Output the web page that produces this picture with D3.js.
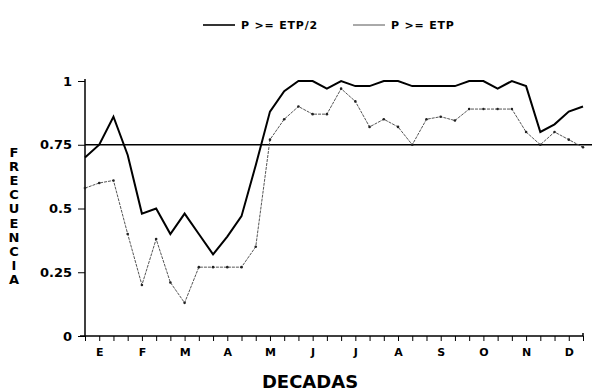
<!DOCTYPE html>
<html>
<head>
<meta charset="utf-8">
<script src="https://cdn.jsdelivr.net/npm/d3@7"></script>
<style>
  body { margin: 0; background: white; }
  text { font-family: "DejaVu Sans", sans-serif; font-weight: bold; }
</style>
</head>
<body>
<div id="container"></div>
<script>
// 36 decades (3 per month), frequency of P >= ETP/2 and P >= ETP
let months = ["E", "F", "M", "A", "M", "J", "J", "A", "S", "O", "N", "D"];
let yTicks = [0, 0.25, 0.5, 0.75, 1];
let yTickLabels = ["0", "0.25", "0.5", "0.75", "1"];
let threshold = 0.75;

let halfEtp = [0.70, 0.75, 0.86, 0.71, 0.48, 0.50, 0.40, 0.48, 0.40, 0.32, 0.39, 0.47,
  0.67, 0.88, 0.96, 1.00, 1.00, 0.97, 1.00, 0.98, 0.98, 1.00, 1.00, 0.98,
  0.98, 0.98, 0.98, 1.00, 1.00, 0.97, 1.00, 0.98, 0.80, 0.83, 0.88, 0.90];
let fullEtp = [0.58, 0.60, 0.61, 0.40, 0.20, 0.38, 0.21, 0.13, 0.27, 0.27, 0.27, 0.27,
  0.35, 0.77, 0.85, 0.90, 0.87, 0.87, 0.97, 0.92, 0.82, 0.85, 0.82, 0.75,
  0.85, 0.86, 0.845, 0.89, 0.89, 0.89, 0.89, 0.80, 0.75, 0.80, 0.77, 0.74];

let w = 592;
let h = 392;

let viz = d3.select("#container")
  .append("svg")
  .attr("width", w)
  .attr("height", h)
  .style("background-color", "white");

let xScale = d3.scaleLinear().domain([0, 35]).range([85, 583]);
let yScale = d3.scaleLinear().domain([0, 1]).range([336, 81]);

// y axis
let yAxis = d3.axisLeft(yScale)
  .tickValues(yTicks)
  .tickFormat(function (d, i) { return yTickLabels[i]; })
  .tickSize(7)
  .tickPadding(6);
let yAxisGroup = viz.append("g")
  .attr("transform", "translate(" + xScale(0) + ",0)")
  .call(yAxis);
yAxisGroup.select(".domain").attr("stroke-width", 1.5).attr("d", "M0,336V79");
yAxisGroup.selectAll("text").attr("font-size", 13).attr("fill", "black");

// x axis, one tick per decade, month name on the middle one
let xAxis = d3.axisBottom(xScale)
  .tickValues(d3.range(36))
  .tickFormat(function (d) { return d % 3 == 1 ? months[(d - 1) / 3] : ""; })
  .tickSize(5)
  .tickPadding(7);
let xAxisGroup = viz.append("g")
  .attr("transform", "translate(0," + yScale(0) + ")")
  .call(xAxis);
xAxisGroup.select(".domain").attr("stroke-width", 1.5).attr("d", "M80,0H583V-3");
xAxisGroup.selectAll("text").attr("font-size", 11).attr("fill", "black");

// reference line at 0.75
viz.append("line")
  .attr("x1", xScale(0))
  .attr("x2", w)
  .attr("y1", yScale(threshold))
  .attr("y2", yScale(threshold))
  .attr("stroke", "black")
  .attr("stroke-width", 1.6);

let line = d3.line()
  .x(function (d, i) { return xScale(i); })
  .y(function (d) { return yScale(d); });

viz.append("path")
  .datum(fullEtp)
  .attr("d", line)
  .attr("fill", "none")
  .attr("stroke", "#555")
  .attr("stroke-width", 1)
  .attr("stroke-dasharray", "3,1");

viz.selectAll(".fullDot")
  .data(fullEtp)
  .enter()
  .append("circle")
  .attr("class", "fullDot")
  .attr("cx", function (d, i) { return xScale(i); })
  .attr("cy", function (d) { return yScale(d); })
  .attr("r", 1.3)
  .attr("fill", "#222");

viz.append("path")
  .datum(halfEtp)
  .attr("d", line)
  .attr("fill", "none")
  .attr("stroke", "black")
  .attr("stroke-width", 2);

// y title, stacked letters
viz.selectAll(".ylab")
  .data("FRECUENCIA".split(""))
  .enter()
  .append("text")
  .attr("class", "ylab")
  .attr("x", 14)
  .attr("y", function (d, i) { return 157 + i * 14.1; })
  .attr("text-anchor", "middle")
  .attr("font-size", 13)
  .text(function (d) { return d; });

viz.append("text")
  .attr("x", 310)
  .attr("y", 388)
  .attr("text-anchor", "middle")
  .attr("font-size", 18)
  .text("DECADAS");

// legend
let legend = [
  { label: "P >= ETP/2", color: "black", width: 1.6, x: 203 },
  { label: "P >= ETP", color: "#555", width: 1, x: 353 }
];
legend.forEach(function (d) {
  viz.append("line")
    .attr("x1", d.x).attr("x2", d.x + 32)
    .attr("y1", 25).attr("y2", 25)
    .attr("stroke", d.color)
    .attr("stroke-width", d.width);
  viz.append("text")
    .attr("x", d.x + 38)
    .attr("y", 29)
    .attr("font-size", 11)
    .attr("letter-spacing", 0.8)
    .text(d.label);
});
</script>
</body>
</html>
